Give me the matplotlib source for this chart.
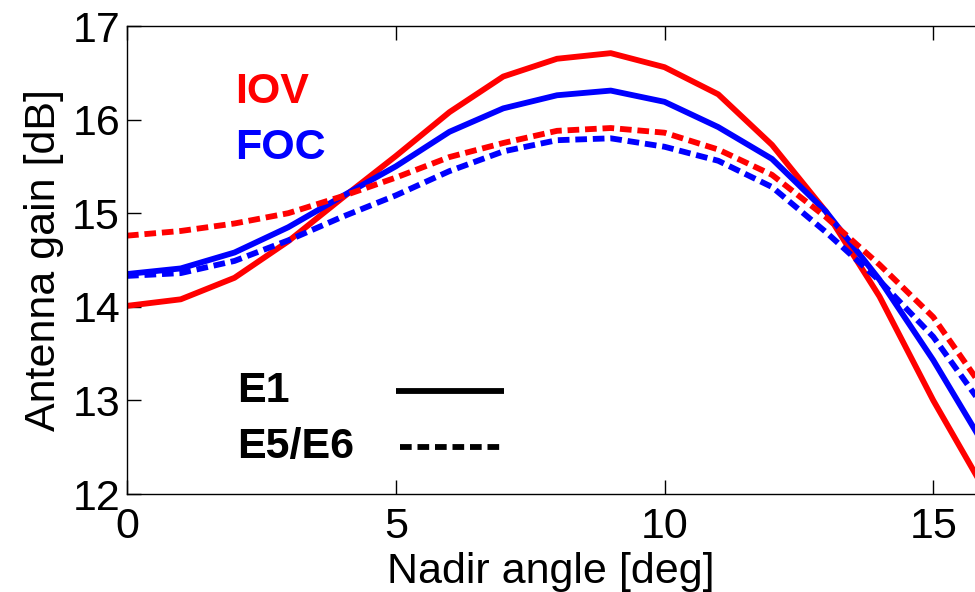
import matplotlib
matplotlib.use("Agg")
import matplotlib.pyplot as plt
from matplotlib.lines import Line2D

plt.rcParams['font.family'] = ['Liberation Sans', 'DejaVu Sans']

# nadir angle [deg]
nadir = list(range(0, 17))

# antenna gain [dB]
iov_e1 = [14.01, 14.08, 14.31, 14.70, 15.16, 15.61, 16.08, 16.46, 16.65, 16.71,
          16.56, 16.27, 15.73, 15.02, 14.11, 13.00, 12.00]
foc_e1 = [14.35, 14.41, 14.58, 14.85, 15.18, 15.50, 15.87, 16.12, 16.26, 16.31,
          16.19, 15.92, 15.58, 15.02, 14.29, 13.43, 12.47]
iov_e5 = [14.76, 14.81, 14.89, 15.00, 15.18, 15.38, 15.60, 15.75, 15.88, 15.91,
          15.86, 15.68, 15.41, 14.96, 14.45, 13.89, 13.07]
foc_e5 = [14.33, 14.36, 14.49, 14.71, 14.96, 15.19, 15.45, 15.66, 15.78, 15.80,
          15.71, 15.56, 15.28, 14.80, 14.28, 13.68, 12.88]

xticks = [0, 5, 10, 15]
yticks = [12, 13, 14, 15, 16, 17]

red = '#ff0000'
blue = '#0000ff'
lw = 4.2
dash = (2.0, 1.0)
fs = 31

fig = plt.figure(figsize=(9.75, 5.92), dpi=100)
ax = fig.add_axes([127 / 975, 98 / 592, 848 / 975, 468 / 592])

ax.plot(nadir, iov_e1, color=red, lw=lw)
ax.plot(nadir, foc_e1, color=blue, lw=lw)
ax.plot(nadir, iov_e5, color=red, lw=lw, dashes=dash)
ax.plot(nadir, foc_e5, color=blue, lw=lw, dashes=dash)

ax.set_xlim(0, 848 / 53.75)
ax.set_ylim(12, 17)
ax.set_xticks(xticks)
ax.set_yticks(yticks)
ax.tick_params(direction='in', length=10, width=1, top=True, right=False,
               labelsize=fs)
ax.tick_params(axis='x', pad=9)
ax.tick_params(axis='y', pad=5)
ax.spines['right'].set_visible(False)
for s in ('left', 'bottom', 'top'):
    ax.spines[s].set_linewidth(1)

ax.set_xlabel('Nadir angle [deg]', fontsize=fs, labelpad=4)
ax.set_ylabel('Antenna gain [dB]', fontsize=fs, labelpad=6)

ax.text(0.127, 0.859, 'IOV', color=red, fontsize=fs, fontweight='bold',
        transform=ax.transAxes, va='center', ha='left')
ax.text(0.127, 0.739, 'FOC', color=blue, fontsize=fs, fontweight='bold',
        transform=ax.transAxes, va='center', ha='left')

# signal key: labels on the left, line samples on the right
ax.text(0.130, 0.220, 'E1', fontsize=fs, fontweight='bold',
        transform=ax.transAxes, va='center', ha='left')
ax.text(0.130, 0.100, 'E5/E6', fontsize=fs, fontweight='bold',
        transform=ax.transAxes, va='center', ha='left')
ax.add_line(Line2D([0.317, 0.444], [0.220, 0.220], color='black', lw=lw,
                   transform=ax.transAxes, solid_capstyle='butt'))
ax.add_line(Line2D([0.322, 0.444], [0.100, 0.100], color='black', lw=lw,
                   dashes=dash, transform=ax.transAxes))

fig.savefig('out.png', dpi=100)
